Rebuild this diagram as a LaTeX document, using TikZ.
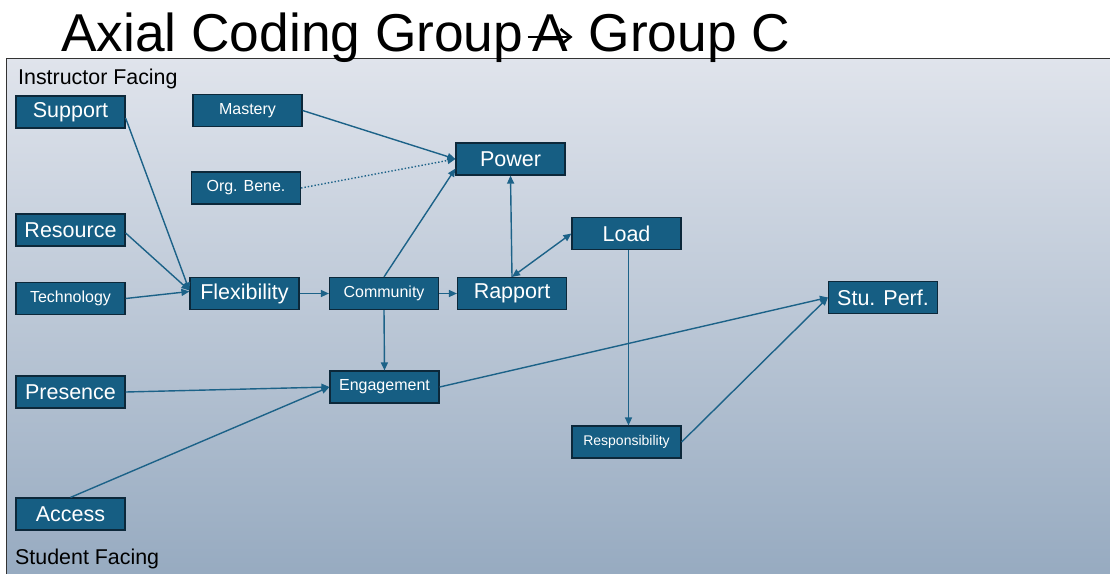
\documentclass[tikz,border=0pt]{standalone}
\usepackage{fontspec}
\setmainfont{Liberation Sans}
\usepackage{xcolor}
\usepackage{tikz}
\usetikzlibrary{positioning, arrows.meta}

\definecolor{boxfill}{RGB}{22,94,131}
\definecolor{boxline}{RGB}{12,40,58}
\definecolor{linkcol}{RGB}{28,98,136}
\definecolor{bgtop}{RGB}{224,228,236}
\definecolor{bgbot}{RGB}{150,170,192}

\begin{document}
\begin{tikzpicture}[
    x=1pt, y=-1pt,
    box/.style={
        draw=boxline, fill=boxfill, text=white, line width=1.2pt,
        minimum width=109pt, minimum height=32pt, inner sep=0pt
    },
    big/.style={box, font=\fontsize{21.5}{24}\selectfont},
    small/.style={box, font=\fontsize{16}{18}\selectfont},
    tiny/.style={box, font=\fontsize{14}{16}\selectfont},
    heading/.style={inner sep=0pt, anchor=base west, font=\fontsize{53.3}{60}\selectfont},
    side/.style={inner sep=0pt, anchor=base west, font=\fontsize{21.4}{24}\selectfont},
    link/.style={draw=linkcol, line width=1.4pt, -{Triangle[length=8pt,width=7pt]}}
]
\useasboundingbox (0,0) rectangle (1110,573);
\shade[top color=bgtop, bottom color=bgbot] (6,58) rectangle (1120,580);
\draw[line width=1pt, draw=black!80] (6,580) -- (6,58) -- (1120,58);

% title
\node[heading] (ttl)  at (61,51) {Axial Coding Group};
\node[heading] (ttlA) at ([xshift=9]ttl.base east) {A};
\node[heading] (ttlC) at ([xshift=20]ttlA.base east) {Group C};
\draw[line width=2.6pt, -{Straight Barb[length=10pt,width=16pt]}]
    ([xshift=-5,yshift=14]ttlA.base west) -- ([xshift=4,yshift=14]ttlA.base east);

\node[side] (inst) at (18,84)  {Instructor Facing};
\node[side] (stud) at (15,564) {Student Facing};

% boxes
\node[big]   (sup)  at (70.5,112) {Support};
\node[small] (mas)  at (247.5,110.5) {Mastery};
\node[big]   (pow)  at (510.5,159) {Power};
\node[small] (org)  at (246,188)     {Org. Bene.};
\node[big]   (rsc)  at (70.5,230)    {Resource};
\node[big]   (load) at (626.5,233.5) {Load};
\node[small] (tech) at (70.5,298.5)  {Technology};
\node[big]   (flex) at (244.5,293.5) {Flexibility};
\node[small] (com)  at (384,293.5)   {Community};
\node[big]   (rap)  at (512,293.5)   {Rapport};
\node[big]   (stu)  at (883,297.5)   {Stu. Perf.};
\node[big]   (pre)  at (70.5,392)    {Presence};
\node[small] (eng)  at (384.5,387)   {Engagement};
\node[tiny]  (resp) at (626.5,442)   {Responsibility};
\node[big]   (acc)  at (70.5,514)    {Access};

% links
\draw[link] ([yshift=-6]sup.east) -- ([yshift=3]flex.west);
\draw[link] ([yshift=-3]rsc.east) -- ([yshift=3]flex.west);
\draw[link] (tech.east) -- ([yshift=2]flex.west);
\draw[link] (flex.east) -- (com.west);
\draw[link] (com.east) -- (rap.west);
\draw[link] (com.north) -- ([yshift=7]pow.south west);
\draw[link] (mas.east) -- (pow.west);
\draw[link, dotted] (org.east) -- (pow.west);
\draw[link] (rap.north) -- (pow.south);
\draw[link, {Triangle[length=8pt,width=7pt]}-{Triangle[length=8pt,width=7pt]}] (rap.north) -- (load.west);
\draw[link] ([xshift=2]load.south) -- ([xshift=2]resp.north);
\draw[link] (com.south) -- (eng.north);
\draw[link] (pre.east) -- (eng.west);
\draw[link] (acc.north) -- (eng.west);
\draw[link] (eng.east) -- (stu.west);
\draw[link] (resp.east) -- (stu.west);
\end{tikzpicture}
\end{document}
